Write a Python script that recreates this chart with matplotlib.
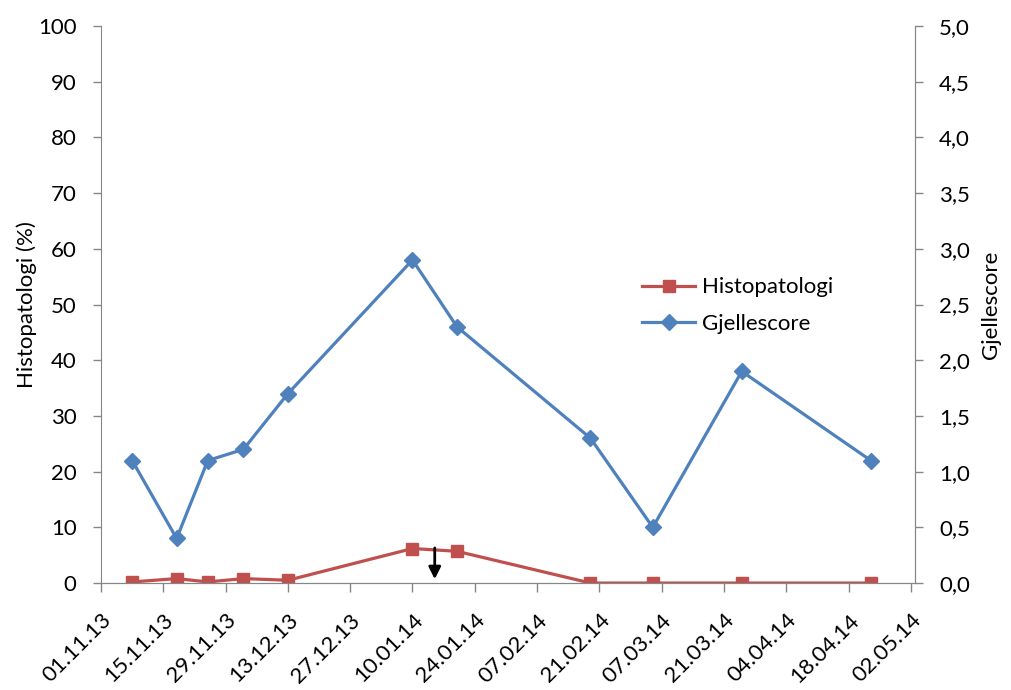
import datetime as dt
import matplotlib
matplotlib.use('Agg')
import matplotlib.pyplot as plt
import matplotlib.dates as mdates
from matplotlib.ticker import FuncFormatter, MultipleLocator

plt.rcParams['font.family'] = ['Lato', 'DejaVu Sans']

# data
dates = ['08.11.13', '18.11.13', '25.11.13', '03.12.13', '13.12.13', '10.01.14',
         '20.01.14', '19.02.14', '05.03.14', '25.03.14', '23.04.14']
histopatologi = [0.2, 0.8, 0.2, 0.8, 0.5, 6.2, 5.7, 0.0, 0.0, 0.0, 0.0]
gjellescore = [1.1, 0.4, 1.1, 1.2, 1.7, 2.9, 2.3, 1.3, 0.5, 1.9, 1.1]
arrow_date = '15.01.14'

x = [dt.datetime.strptime(d, '%d.%m.%y') for d in dates]
red = '#C0504D'
blue = '#4F81BD'
grey = '#868686'

fig = plt.figure(figsize=(10.11, 6.9), dpi=100)
ax = fig.add_axes([0.0999, 0.155, 0.8051, 0.8073])
ax2 = ax.twinx()

l1, = ax.plot(x, histopatologi, '-s', color=red, lw=2.3, ms=9, label='Histopatologi')
l2, = ax2.plot(x, gjellescore, '-D', color=blue, lw=2.3, ms=8.5, label='Gjellescore')

ax.set_ylim(0, 100)
ax2.set_ylim(0, 5)
ax.yaxis.set_major_locator(MultipleLocator(10))
ax2.yaxis.set_major_locator(MultipleLocator(0.5))
ax2.yaxis.set_major_formatter(FuncFormatter(lambda v, p: f'{v:.1f}'.replace('.', ',')))

start = dt.datetime(2013, 11, 1)
end = dt.datetime(2014, 5, 2, 22)
ax.set_xlim(start, end)
ax.set_xticks([start + dt.timedelta(days=14 * i) for i in range(14)])
ax.xaxis.set_major_formatter(mdates.DateFormatter('%d.%m.%y'))
for lab in ax.get_xticklabels():
    lab.set_rotation(45)
    lab.set_ha('right')
    lab.set_rotation_mode('anchor')

for a in (ax, ax2):
    a.spines['top'].set_visible(False)
    for s in ('left', 'right', 'bottom'):
        a.spines[s].set_color(grey)
    a.tick_params(colors=grey, labelcolor='black', labelsize=16, length=5.5, width=1)
ax2.spines['left'].set_visible(False)
ax.tick_params(axis='y', pad=12)
ax2.tick_params(axis='y', pad=12)
ax.tick_params(axis='x', length=6.5, pad=13)

ax.set_ylabel('Histopatologi (%)', fontsize=16, labelpad=1)
ax2.set_ylabel('Gjellescore', fontsize=16, labelpad=8)

ya = dt.datetime.strptime(arrow_date, '%d.%m.%y')
ax.annotate('', xy=(ya, 0.2), xytext=(ya, 6.8),
            arrowprops=dict(arrowstyle='-|>', color='black', lw=2, mutation_scale=18))

ax2.legend([l1, l2], ['Histopatologi', 'Gjellescore'], loc='center left',
           bbox_to_anchor=(0.64, 0.498), frameon=False, fontsize=16,
           handlelength=2.4, handletextpad=0.3, labelspacing=0.75)

fig.savefig('out.png', dpi=100)
